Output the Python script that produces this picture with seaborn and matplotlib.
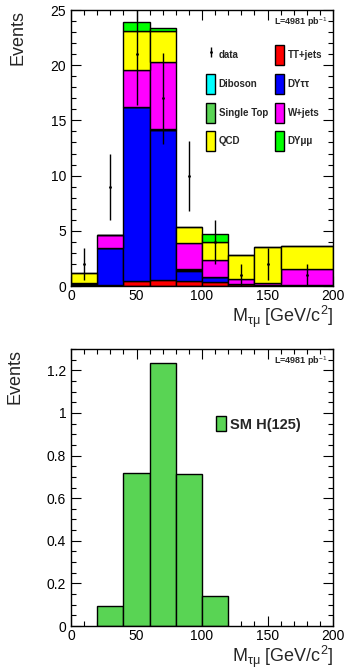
import numpy as np
import pandas as pd
import seaborn as sns
import matplotlib.pyplot as plt
from matplotlib.patches import Patch
from matplotlib.ticker import MultipleLocator, FormatStrFormatter

sns.set_style("ticks")
plt.rcParams["font.family"] = ["Liberation Sans", "DejaVu Sans"]
plt.rcParams["mathtext.fontset"] = "custom"
plt.rcParams["mathtext.rm"] = "Liberation Sans"
plt.rcParams["mathtext.it"] = "Liberation Sans:italic"

# binning (last bin is wider)
edges = [0, 20, 40, 60, 80, 100, 120, 140, 160, 200]
centers = [10, 30, 50, 70, 90, 110, 130, 150, 180]

# backgrounds, bottom of stack first
tt_jets = [0.05, 0.10, 0.45, 0.54, 0.48, 0.33, 0.15, 0.10, 0.10]
dy_tautau = [0.10, 3.37, 15.75, 13.56, 0.91, 0.46, 0.05, 0.02, 0.00]
diboson = [0.02, 0.00, 0.00, 0.05, 0.06, 0.00, 0.00, 0.00, 0.00]
single_top = [0.02, 0.00, 0.00, 0.05, 0.05, 0.00, 0.00, 0.00, 0.00]
w_jets = [0.05, 1.15, 3.40, 6.10, 2.42, 1.57, 0.40, 0.18, 1.41]
qcd = [0.91, 0.00, 3.50, 2.80, 1.45, 1.65, 2.18, 3.26, 2.14]
dy_mumu = [0.00, 0.00, 0.80, 0.30, 0.00, 0.67, 0.00, 0.00, 0.00]

data = [2, 9, 21, 17, 10, 4, 1, 2, 1]

# signal
sig_edges = [20, 40, 60, 80, 100, 120]
sig_centers = [30, 50, 70, 90, 110]
sig_values = [0.095, 0.718, 1.232, 0.713, 0.143]

names = ["TT+jets", "DYττ", "Diboson", "Single Top", "W+jets", "QCD", "DYμμ"]
series = [tt_jets, dy_tautau, diboson, single_top, w_jets, qcd, dy_mumu]
colors = {"TT+jets": "#ff0000", "DYττ": "#0000ff", "Diboson": "#00ffff",
          "Single Top": "#59d454", "W+jets": "#ff00ff", "QCD": "#ffff00",
          "DYμμ": "#00ff00"}

rows = []
for name, vals in zip(names, series):
    for c, v in zip(centers, vals):
        rows.append({"mass": c, "events": v, "process": name})
bkg = pd.DataFrame(rows)

fig = plt.figure(figsize=(3.52, 6.7), dpi=100)
ax1 = fig.add_axes([71 / 352, 1 - 286 / 670, 262 / 352, 276 / 670])
ax2 = fig.add_axes([71 / 352, 1 - 626 / 670, 262 / 352, 277 / 670])

# seaborn puts the first hue level on top of the stack
sns.histplot(data=bkg, x="mass", weights="events", hue="process",
             hue_order=names[::-1], palette=colors, bins=edges,
             multiple="stack", alpha=1, edgecolor="black", linewidth=1,
             legend=False, ax=ax1)

eb = ax1.errorbar(centers, data, yerr=np.sqrt(data), fmt=".", color="black",
                  markersize=2, elinewidth=1, capsize=0)

sns.histplot(x=sig_centers, weights=sig_values, bins=sig_edges,
             color="#59d454", alpha=1, edgecolor="black", linewidth=1, ax=ax2)

for ax, ymax, ymaj, ymin in [(ax1, 25, 5, 1), (ax2, 1.3, 0.2, 0.05)]:
    ax.set_xlim(0, 200)
    ax.set_ylim(0, ymax)
    ax.xaxis.set_major_locator(MultipleLocator(50))
    ax.xaxis.set_minor_locator(MultipleLocator(10))
    ax.yaxis.set_major_locator(MultipleLocator(ymaj))
    ax.yaxis.set_minor_locator(MultipleLocator(ymin))
    ax.yaxis.set_major_formatter(FormatStrFormatter("%g"))
    ax.tick_params(which="both", direction="in", top=True, right=True,
                   labelsize=10, width=0.8, colors="black")
    ax.tick_params(which="major", length=7)
    ax.tick_params(which="minor", length=3.5)
    ax.tick_params(axis="x", pad=2)
    for s in ax.spines.values():
        s.set_linewidth(1)
        s.set_color("black")
    ax.set_xlabel(r"M$_{\mathregular{τμ}}$ [GeV/c$^{2}$]", loc="right",
                  fontsize=13, labelpad=1)
    ax.set_ylabel("Events", loc="top", fontsize=13, labelpad=17)
    ax.text(0.98, 0.955, r"L=4981 pb$^{-1}$", transform=ax.transAxes,
            ha="right", va="center", fontsize=6.5, fontweight="bold")

handles = [eb, Patch(facecolor=colors["Diboson"], edgecolor="black"),
           Patch(facecolor=colors["Single Top"], edgecolor="black"),
           Patch(facecolor=colors["QCD"], edgecolor="black"),
           Patch(facecolor=colors["TT+jets"], edgecolor="black"),
           Patch(facecolor=colors["DYττ"], edgecolor="black"),
           Patch(facecolor=colors["W+jets"], edgecolor="black"),
           Patch(facecolor=colors["DYμμ"], edgecolor="black")]
labels = ["data", "Diboson", "Single Top", "QCD",
          "TT+jets", "DYττ", "W+jets", "DYμμ"]
ax1.legend(handles, labels, ncol=2, loc="upper left",
           bbox_to_anchor=(0.515, 0.872), frameon=False,
           prop={"size": 7, "weight": "bold"}, handlelength=0.95,
           handleheight=2.8, handletextpad=0.35, labelspacing=0.88,
           columnspacing=0.75, borderpad=0, borderaxespad=0)

ax2.legend([Patch(facecolor="#59d454", edgecolor="black")], ["SM H(125)"],
           loc="center left", bbox_to_anchor=(0.553, 0.729), frameon=False,
           prop={"size": 10.5, "weight": "bold"}, handlelength=0.7,
           handleheight=1.15, handletextpad=0.25, borderpad=0,
           borderaxespad=0)

fig.savefig("out.png", dpi=100)
